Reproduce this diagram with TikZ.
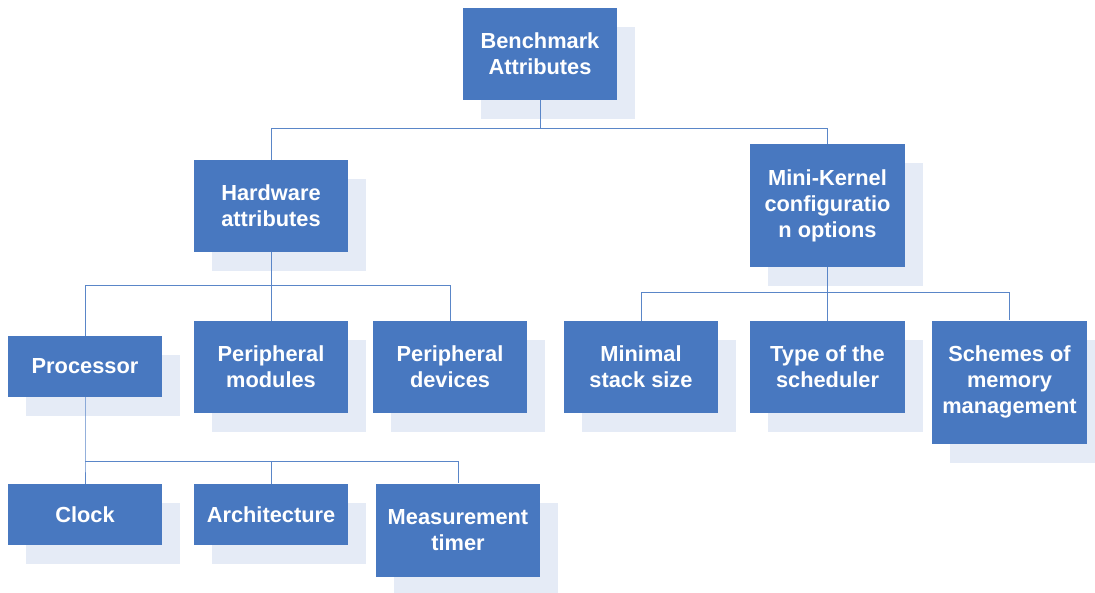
\documentclass[tikz,border=0pt]{standalone}
\usepackage{fontspec}
\setmainfont{Liberation Sans}
\usetikzlibrary{shadows}
\definecolor{boxc}{HTML}{4878C0}
\definecolor{shadc}{HTML}{E5EBF6}
\definecolor{linec}{HTML}{5A86C8}
\tikzset{
  box/.style={draw=none, fill=boxc, text=white, align=center,
    font=\fontsize{21.8}{26}\selectfont\bfseries, inner sep=0pt,
    general shadow={fill=shadc, shadow xshift=18pt, shadow yshift=-19pt}},
  conn/.style={draw=linec, line width=0.9pt}
}
\begin{document}
\begin{tikzpicture}[x=1pt,y=-1pt]
\useasboundingbox (0,0) rectangle (1095,592);
\node[box, minimum width=154pt, minimum height=92pt] (bench) at (540,54) {Benchmark\\Attributes};
\node[box, minimum width=154pt, minimum height=92pt] (hw) at (271,206) {Hardware\\attributes};
\node[box, minimum width=155pt, minimum height=123pt] (mk) at (827.5,205.5) {Mini-Kernel\\configuratio\\n options};
\node[box, minimum width=154pt, minimum height=61pt] (proc) at (85,366.5) {Processor};
\node[box, minimum width=154pt, minimum height=92pt] (pm) at (271,367) {Peripheral\\modules};
\node[box, minimum width=154pt, minimum height=92pt] (pd) at (450,367) {Peripheral\\devices};
\node[box, minimum width=154pt, minimum height=92pt] (mss) at (641,367) {Minimal\\stack size};
\node[box, minimum width=155pt, minimum height=92pt] (ts) at (827.5,367) {Type of the\\scheduler};
\node[box, minimum width=155pt, minimum height=123pt] (smm) at (1009.5,382) {Schemes of\\memory\\management};
\node[box, minimum width=154pt, minimum height=61pt] (clk) at (85,514.5) {Clock};
\node[box, minimum width=154pt, minimum height=61pt] (arch) at (271,514.5) {Architecture};
\node[box, minimum width=164pt, minimum height=93pt] (mt) at (458,530) {Measurement\\timer};
\coordinate (j1) at (540,128);
\coordinate (j2) at (271,285);
\coordinate (j3) at (827.5,292);
\coordinate (j4) at (85,461);
\draw[conn] (bench.south) -- (j1) -| (hw.north);
\draw[conn] (j1) -| (mk.north);
\draw[conn] (hw.south) -- (j2) -| (proc.north);
\draw[conn] (j2) -- (pm.north);
\draw[conn] (j2) -| (pd.north);
\draw[conn] (mk.south) -- (j3) -| (mss.north);
\draw[conn] (j3) -- (ts.north);
\draw[conn] (j3) -| (smm.north);
\draw[conn] (proc.south) -- (j4) -- (clk.north);
\draw[conn] (j4) -| (arch.north);
\draw[conn] (j4) -| (mt.north);
\end{tikzpicture}
\end{document}
